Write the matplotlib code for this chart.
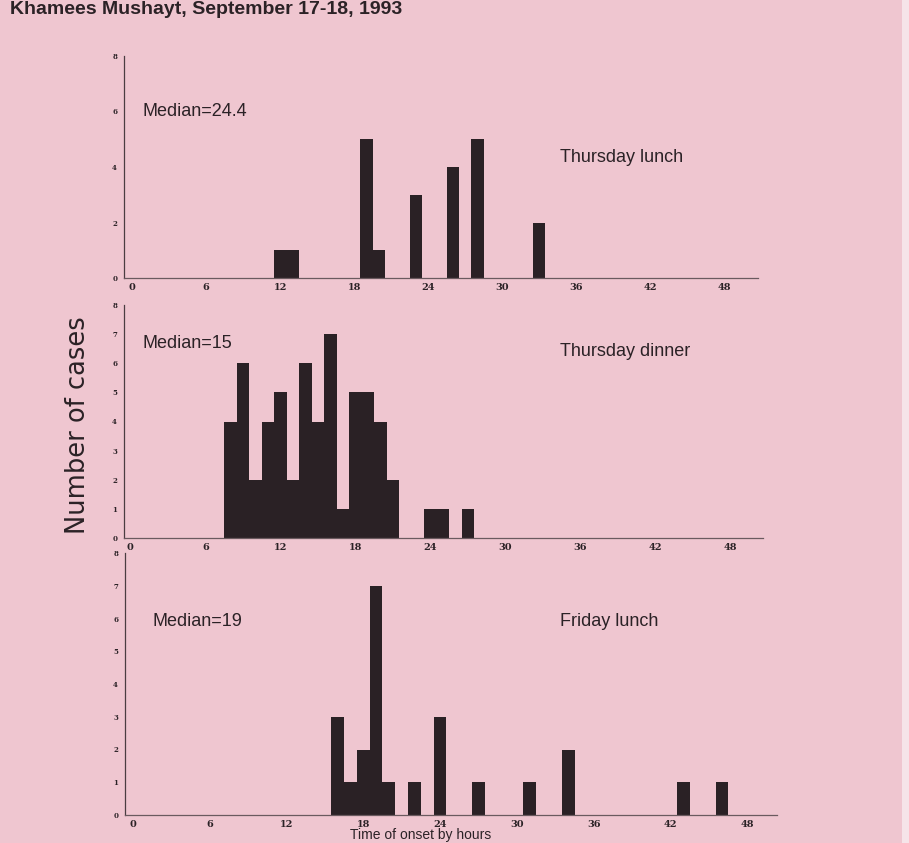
import matplotlib
matplotlib.use("Agg")
import matplotlib.pyplot as plt
from matplotlib.patches import Rectangle

# ---- data ----
title = "Khamees Mushayt, September 17-18, 1993"
panel_names = ["Thursday lunch", "Thursday dinner", "Friday lunch"]
medians = ["Median=24.4", "Median=15", "Median=19"]

thu_lunch_hours = [12, 13, 19, 20, 23, 26, 28, 33]
thu_lunch_cases = [1, 1, 5, 1, 3, 4, 5, 2]

thu_dinner_hours = [8, 9, 10, 11, 12, 13, 14, 15, 16, 17, 18, 19, 20, 21, 24, 25, 27]
thu_dinner_cases = [4, 6, 2, 4, 5, 2, 6, 4, 7, 1, 5, 5, 4, 2, 1, 1, 1]

fri_lunch_hours = [16, 17, 18, 19, 20, 22, 24, 27, 31, 34, 43, 46]
fri_lunch_cases = [3, 1, 2, 7, 1, 1, 3, 1, 1, 2, 1, 1]

x_ticks = [0, 6, 12, 18, 24, 30, 36, 42, 48]
y_ticks_top = [0, 2, 4, 6, 8]
y_ticks_full = [0, 1, 2, 3, 4, 5, 6, 7, 8]

ylabel = "Number of cases"
xlabel = "Time of onset by hours"

# ---- style ----
W, H = 909, 843
PINK = "#efc6d0"
BAR = "#2a2125"
INK = "#2b2226"
SANS = ["Liberation Sans", "DejaVu Sans"]

fig = plt.figure(figsize=(W / 100, H / 100), dpi=100)
fig.patch.set_facecolor(PINK)
fig.patches.append(Rectangle((902 / W, 0), 7 / W, 1, transform=fig.transFigure,
                             facecolor="#f6e4e9", edgecolor="none", zorder=0))


def px_axes(left, top, right, bottom):
    return fig.add_axes([left / W, 1 - bottom / H, (right - left) / W, (bottom - top) / H])


# (left, top, right, bottom) in px, xlim
layout = [
    ((124, 56, 758, 278), (-0.67, 50.75)),
    ((124, 305, 763, 538), (-0.5, 50.6)),
    ((125, 553, 777, 815), (-0.59, 50.3)),
]
data = [
    (thu_lunch_hours, thu_lunch_cases, y_ticks_top),
    (thu_dinner_hours, thu_dinner_cases, y_ticks_full),
    (fri_lunch_hours, fri_lunch_cases, y_ticks_full),
]
median_pos = [(142, 111), (143, 343), (153, 622)]
name_pos = [(560, 157), (560, 352), (560, 622)]

axes = []
for i, ((box, xl), (hrs, cnt, yt)) in enumerate(zip(layout, data)):
    ax = px_axes(*box)
    axes.append(ax)
    ax.set_facecolor("none")
    ax.bar(hrs, cnt, width=1.0, align="center", color=BAR, edgecolor="none")
    ax.set_xlim(*xl)
    ax.set_ylim(0, 8)
    ax.set_xticks(x_ticks)
    ax.set_xticklabels([str(t) for t in x_ticks], family="DejaVu Serif",
                       fontweight="bold", fontsize=7, color=INK)
    ax.set_yticks(yt)
    ax.set_yticklabels([str(t) for t in yt], family="DejaVu Serif",
                       fontweight="bold", fontsize=5, color=INK)
    ax.tick_params(axis="x", length=0, pad=3.5)
    ax.tick_params(axis="y", length=0, pad=5)
    for s in ("top", "right"):
        ax.spines[s].set_visible(False)
    ax.spines["left"].set_color("#4a3d41")
    ax.spines["left"].set_linewidth(0.9)
    ax.spines["bottom"].set_color("#6a5a5f")
    ax.spines["bottom"].set_linewidth(0.9)

    mx, my = median_pos[i]
    fig.text(mx / W, 1 - my / H, medians[i], family=SANS, fontsize=13,
             color=INK, ha="left", va="center")
    nx, ny = name_pos[i]
    fig.text(nx / W, 1 - ny / H, panel_names[i], family=SANS, fontsize=13,
             color=INK, ha="left", va="center")

fig.text(10 / W, 1 - 1 / H, title, family=SANS,
         fontweight="bold", fontsize=14, color=INK, ha="left", va="top")

fig.text(78 / W, 1 - 425 / H, ylabel, family=["DejaVu Sans"], fontsize=18.5,
         color=INK, rotation=90, ha="center", va="center")

fig.text(421 / W, 1 - 842 / H, xlabel, family=SANS, fontsize=10,
         color=INK, ha="center", va="bottom")

fig.savefig("out.png", dpi=100, facecolor=PINK)
